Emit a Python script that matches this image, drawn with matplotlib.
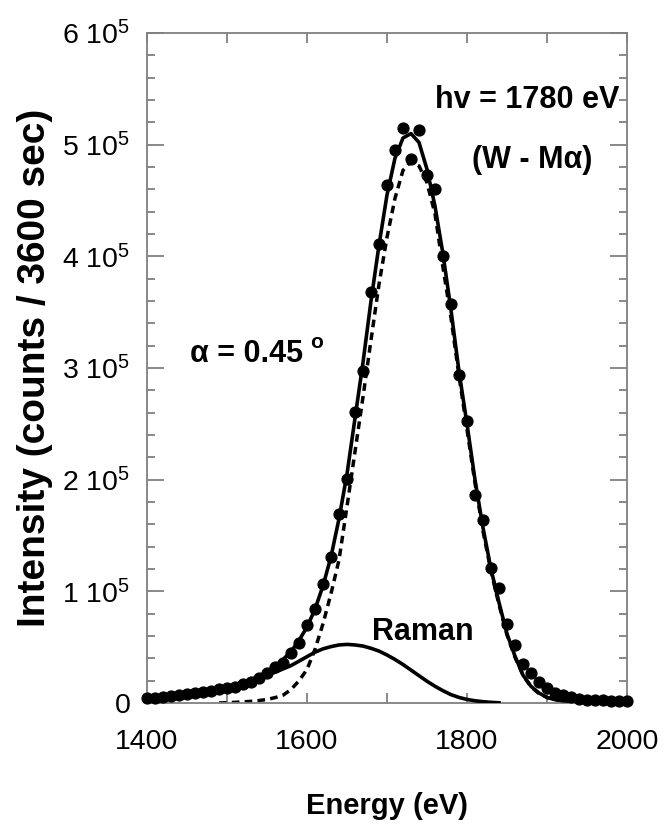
import numpy as np
import matplotlib
matplotlib.use('Agg')
import matplotlib.pyplot as plt
from matplotlib.ticker import MultipleLocator, FixedLocator

plt.rcParams['font.family'] = ['Liberation Sans', 'DejaVu Sans']
plt.rcParams['mathtext.fontset'] = 'custom'
plt.rcParams['mathtext.rm'] = 'Liberation Sans'
plt.rcParams['mathtext.it'] = 'Liberation Sans'

# measured points, every 10 eV
energy = np.arange(1400, 2001, 10)
counts = [4.2e3, 4.5e3, 5.7e3, 6.3e3, 7.2e3, 8.1e3, 9.3e3, 10.2e3, 11.1e3, 12.3e3,
          13.7e3, 14.6e3, 17e3, 19e3, 22e3, 26.6e3, 32e3, 36e3, 45e3, 54e3,
          70e3, 84e3, 107e3, 131e3, 169e3, 201e3, 261e3, 297e3, 368e3, 411e3,
          464e3, 495e3, 515e3, 487e3, 513e3, 473e3, 460e3, 400e3, 357e3, 294e3,
          253e3, 186e3, 164e3, 121e3, 103e3, 71e3, 52e3, 35e3, 27e3, 19e3,
          13e3, 9e3, 7e3, 5e3, 4e3, 3e3, 3e3, 2.5e3, 2e3, 2e3,
          2e3]

# total fit (solid line)
fit_total = [4e3, 4.5e3, 5e3, 6e3, 7e3, 8e3, 9e3, 10e3, 11.5e3, 13e3,
             14.5e3, 16.5e3, 18.5e3, 21e3, 24e3, 28e3, 33e3, 39e3, 46e3, 56e3,
             68e3, 84e3, 105e3, 131e3, 165e3, 205e3, 255e3, 305e3, 360e3, 410e3,
             455e3, 488e3, 506e3, 510e3, 502e3, 478e3, 445e3, 402e3, 352e3, 297e3,
             250e3, 200e3, 157e3, 120e3, 90e3, 62e3, 42e3, 25e3, 15e3, 9e3,
             5e3, 3e3, 2e3, 1.5e3, 1e3, 1e3, 1e3, 1e3, 1e3, 1e3,
             1e3]

# main line component (dashed), 1490 - 2000 eV
energy_main = np.arange(1490, 2001, 10)
fit_main = [0, 0.3e3, 0.6e3, 1e3, 1.5e3, 2.2e3, 3.2e3, 4.8e3, 7e3, 12e3,
            20e3, 30e3, 48e3, 71e3, 98e3, 128e3, 176e3, 225e3, 274e3, 325e3,
            375e3, 417e3, 452e3, 477e3, 485e3, 481e3, 466e3, 438e3, 390e3, 345e3,
            293e3, 245e3, 197e3, 154e3, 118e3, 88e3, 61e3, 41e3, 25e3, 14.5e3,
            8.5e3, 5e3, 3e3, 2e3, 1.5e3, 1e3, 1e3, 1e3, 1e3, 1e3,
            1e3, 1e3]

# Raman component, 1400 - 1840 eV
energy_raman = np.arange(1400, 1841, 10)
raman = [4e3, 4.5e3, 5e3, 6e3, 7e3, 8e3, 9e3, 10e3, 11.5e3, 13e3,
         14.5e3, 16e3, 18e3, 20e3, 22.5e3, 25e3, 27.5e3, 30.5e3, 33.5e3, 37.5e3,
         41.5e3, 45.5e3, 48.5e3, 50.5e3, 52e3, 52.5e3, 52e3, 51e3, 49e3, 46.5e3,
         43e3, 39e3, 34.5e3, 29.5e3, 24.5e3, 19.5e3, 15e3, 11e3, 7.5e3, 5e3,
         3.2e3, 2e3, 1.2e3, 0.6e3, 0.2e3]

ytick_vals = [0, 1e5, 2e5, 3e5, 4e5, 5e5, 6e5]
ytick_labels = ['0'] + ['%d 10$^5$' % i for i in range(1, 7)]
xtick_vals = [1400, 1600, 1800, 2000]

fig = plt.figure(figsize=(6.67, 8.26), dpi=100)
ax = fig.add_axes([0.2204, 0.1489, 0.7196, 0.8111])

ax.plot(energy, fit_total, color='black', lw=2.6, zorder=3)
ax.plot(energy_main, fit_main, color='black', lw=2.5, ls=(0, (2.2, 1.5)), zorder=2)
ax.plot(energy_raman, raman, color='black', lw=2.6, zorder=3)
ax.plot(energy, counts, 'o', color='black', ms=7.8, clip_on=False, zorder=4)

ax.set_xlim(1400, 2000)
ax.set_ylim(0, 6e5)

ax.xaxis.set_major_locator(FixedLocator(xtick_vals))
ax.xaxis.set_minor_locator(MultipleLocator(100))
ax.set_xticklabels([str(v) for v in xtick_vals])
ax.yaxis.set_major_locator(FixedLocator(ytick_vals))
ax.yaxis.set_minor_locator(MultipleLocator(2e4))
ax.set_yticklabels(ytick_labels)

gray = '#808080'
for s in ax.spines.values():
    s.set_color(gray)
    s.set_linewidth(1.3)
ax.tick_params(axis='both', which='both', direction='in', top=True, right=True,
               color=gray, width=1.3, labelsize=20.5)
ax.tick_params(axis='x', which='both', length=7, pad=19)
ax.tick_params(axis='y', which='major', length=12, pad=12)
ax.tick_params(axis='y', which='minor', length=6)

ax.set_xlabel('Energy (eV)', fontsize=21, fontweight='bold', labelpad=26)
ax.set_ylabel('Intensity (counts / 3600 sec)', fontsize=28, fontweight='bold', labelpad=7)

ax.text(1991, 5.40e5, 'hv = 1780 eV', fontsize=22, fontweight='bold', ha='right', va='center')
ax.text(1881, 4.86e5, '(W - M\u03b1)', fontsize=22, fontweight='bold', ha='center', va='center')
ax.text(1454, 3.13e5, '\u03b1 = 0.45', fontsize=22, fontweight='bold', ha='left', va='center')
ax.text(1604, 3.23e5, 'o', fontsize=15, fontweight='bold', ha='left', va='center')
ax.text(1681, 0.64e5, 'Raman', fontsize=22, fontweight='bold', ha='left', va='center')

fig.savefig('out.png', dpi=100)
